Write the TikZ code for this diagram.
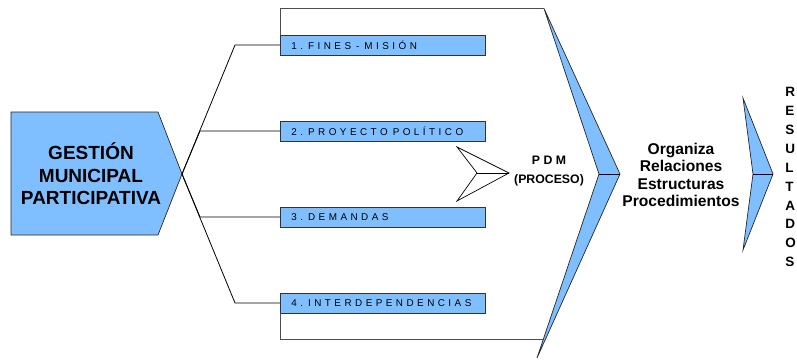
\documentclass[tikz,border=0pt]{standalone}
\usepackage{fontspec}
\setmainfont{Liberation Sans}
\newfontfamily\spacedfont[LetterSpace=35]{Liberation Sans}
\definecolor{procblue}{RGB}{128,191,255}
\newcommand{\gap}{\hspace{5pt}}

\begin{document}
\begin{tikzpicture}[x=1pt,y=-1pt,line width=0.8pt]
    \tikzstyle{item box}=[draw=black!80,fill=procblue,minimum height=20pt,text width=183pt,inner xsep=11pt,inner ysep=0pt,align=left,anchor=west,font=\spacedfont\fontsize{9.9}{11}\selectfont]
    \tikzstyle{wedge}=[draw=black!85,fill=procblue,line width=0.7pt]
    \tikzstyle{big text}=[font=\bfseries\fontsize{15.6}{17.5}\selectfont,align=center]
    \useasboundingbox (0,0) rectangle (797,361);
    % left block
    \draw[wedge] (11,112) -- (158,112) -- (182,174) -- (158,235) -- (11,235) -- cycle;
    \node[font=\bfseries\fontsize{19}{22.5}\selectfont,align=center] (G_text) at (91,174) {GESTIÓN\\MUNICIPAL\\PARTICIPATIVA};
    \coordinate (G_tip) at (182,174);
    % the four items
    \node[item box] (B_1) at (280,45) {1.\gap FINES\gap -\gap MISIÓN};
    \node[item box] (B_2) at (280,131) {2.\gap PROYECTO\gap POLÍTICO};
    \node[item box] (B_3) at (280,217) {3.\gap DEMANDAS};
    \node[item box] (B_4) at (280,303) {4.\gap INTERDEPENDENCIAS};
    \coordinate (E_1) at (235,45);
    \coordinate (E_2) at (200,131);
    \coordinate (E_3) at (200,217);
    \coordinate (E_4) at (235,303);
    \draw (G_tip) -- (E_1) -- (B_1.west);
    \draw (G_tip) -- (E_2) -- (B_2.west);
    \draw (G_tip) -- (E_3) -- (B_3.west);
    \draw (G_tip) -- (E_4) -- (B_4.west);
    % big chevron
    \coordinate (C_top) at (544,8.5);
    \coordinate (C_tip) at (620,174);
    \coordinate (C_bot) at (537,358);
    \coordinate (C_notch) at (599,174);
    \coordinate (C_low) at (543.5,339);
    \coordinate (T_1) at (280,8.5);
    \coordinate (T_4) at (280,339);
    \draw[wedge] (C_top) -- (C_tip) -- (C_bot) -- (C_notch) -- cycle;
    \draw[line width=0.7pt] (C_notch) -- (C_tip);
    \draw[black!70] (B_1.north west) -- (T_1) -- (C_top);
    \draw[black!70] (B_4.south west) -- (T_4) -- (C_low);
    % process arrow
    \coordinate (P_top) at (457,147);
    \coordinate (P_tip) at (509,173);
    \coordinate (P_bot) at (457,201);
    \coordinate (P_notch) at (477,173);
    \draw[line width=0.7pt] (P_top) -- (P_tip) -- (P_bot) -- (P_notch) -- cycle;
    \draw[line width=0.7pt] (P_notch) -- (P_tip);
    \node[font=\bfseries\fontsize{12.3}{19}\selectfont,align=center] (PDM) at (549,171) {P D M\\(PROCESO)};
    \node[big text] (Org) at (681,175) {Organiza\\Relaciones\\Estructuras\\Procedimientos};
    % small chevron
    \coordinate (S_top) at (743,98);
    \coordinate (S_tip) at (773,174);
    \coordinate (S_bot) at (743,250);
    \coordinate (S_notch) at (753,174);
    \draw[wedge] (S_top) -- (S_tip) -- (S_bot) -- (S_notch) -- cycle;
    \draw[line width=0.7pt] (S_notch) -- (S_tip);
    \node[font=\bfseries\fontsize{13.5}{18.9}\selectfont,align=left,anchor=north west,inner sep=0pt] (Res) at (785,87) {R\\E\\S\\U\\L\\T\\A\\D\\O\\S};
\end{tikzpicture}
\end{document}
